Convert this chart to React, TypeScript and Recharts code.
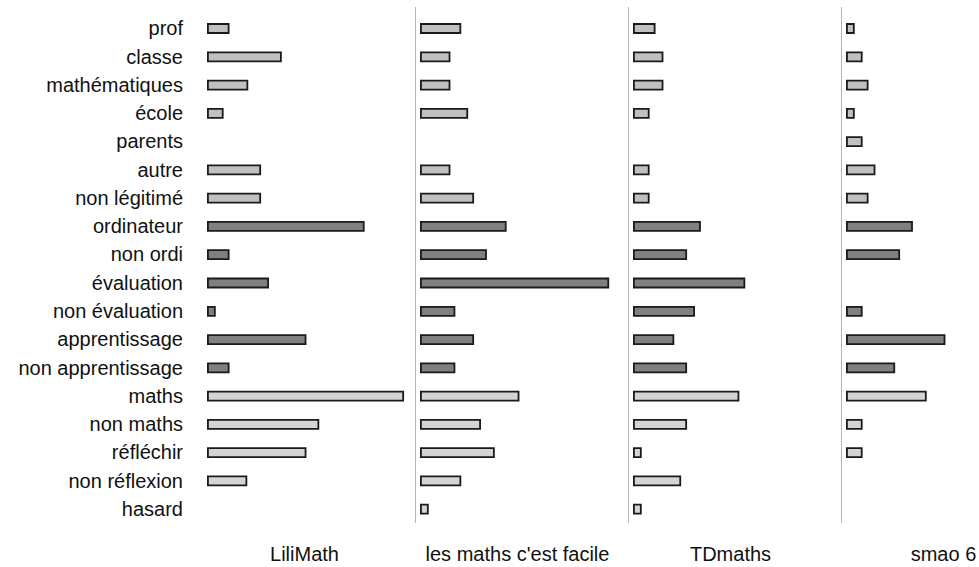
import { BarChart, Bar, XAxis, YAxis, Cell, ReferenceLine } from 'recharts';

const categories = [
  'prof',
  'classe',
  'mathématiques',
  'école',
  'parents',
  'autre',
  'non légitimé',
  'ordinateur',
  'non ordi',
  'évaluation',
  'non évaluation',
  'apprentissage',
  'non apprentissage',
  'maths',
  'non maths',
  'réfléchir',
  'non réflexion',
  'hasard',
];

// theme of each category (drives the bar shade)
const themes = [
  'cadre', 'cadre', 'cadre', 'cadre', 'cadre', 'cadre', 'cadre',
  'outil', 'outil', 'outil', 'outil', 'outil', 'outil',
  'discipline', 'discipline', 'discipline', 'discipline', 'discipline',
];

const sites = ['LiliMath', "les maths c'est facile", 'TDmaths', 'smao 6'];

const liliMath = [2.1, 7.4, 4.0, 1.5, 0, 5.3, 5.3, 15.8, 2.1, 6.1, 0.7, 9.9, 2.1, 19.8, 11.2, 9.9, 3.9, 0];
const mathsFacile = [4.0, 2.9, 2.9, 4.7, 0, 2.9, 5.3, 8.6, 6.6, 19.0, 3.4, 5.3, 3.4, 9.9, 6.0, 7.4, 4.0, 0.7];
const tdMaths = [2.1, 2.9, 2.9, 1.5, 0, 1.5, 1.5, 6.7, 5.3, 11.2, 6.1, 4.0, 5.3, 10.6, 5.3, 0.7, 4.7, 0.7];
const smao6 = [0.7, 1.5, 2.1, 0.7, 1.5, 2.8, 2.1, 6.6, 5.3, 0, 1.5, 9.9, 4.8, 8.0, 1.5, 1.5, 0, 0];

const seriesBySite = [liliMath, mathsFacile, tdMaths, smao6];

const shade: Record<string, string> = {
  cadre: '#c0c0c0',
  outil: '#808080',
  discipline: '#d4d4d4',
};

const FONT = '"Liberation Sans", Arial, sans-serif';
const PANEL_W = 213;
const LABEL_W = 202;
const H = 567;
const X_MIN = -0.6;
const X_MAX = 21;

function Panel({ index }: { index: number }) {
  const values = seriesBySite[index];
  const rows = categories.map((name, i) => ({ name, value: values[i], theme: themes[i] }));
  const first = index === 0;
  const width = first ? LABEL_W + PANEL_W : PANEL_W;
  const left = first ? 0 : LABEL_W + PANEL_W * index;

  return (
    <div style={{ position: 'absolute', left, top: 0 }}>
      <BarChart
        width={width}
        height={H}
        data={rows}
        layout="vertical"
        margin={{ top: 7, right: 0, bottom: 0, left: 0 }}
      >
        <XAxis
          type="number"
          domain={[X_MIN, X_MAX]}
          tick={false}
          tickLine={false}
          axisLine={false}
          height={44}
          label={{
            value: sites[index],
            position: 'insideBottom',
            offset: 6,
            dx: -4,
            fill: '#111',
            fontSize: 20,
            fontFamily: FONT,
          }}
        />
        <YAxis
          type="category"
          dataKey="name"
          hide={!first}
          width={first ? LABEL_W : 0}
          padding={{ top: 7, bottom: 0 }}
          axisLine={false}
          tickLine={false}
          tickSize={0}
          tickMargin={19}
          interval={0}
          tick={{ fontSize: 20, fill: '#111', fontFamily: FONT }}
        />
        {!first && <ReferenceLine x={X_MIN} stroke="#b4b4b4" strokeWidth={2} />}
        <Bar dataKey="value" barSize={9} stroke="#1a1a1a" strokeWidth={1.8} isAnimationActive={false}>
          {rows.map((r) => (
            <Cell key={r.name} fill={shade[r.theme]} />
          ))}
        </Bar>
      </BarChart>
    </div>
  );
}

export default function App() {
  return (
    <div
      style={{
        position: 'absolute',
        left: 0,
        top: 0,
        width: 979,
        height: H,
        overflow: 'hidden',
        background: '#fff',
        fontFamily: FONT,
      }}
    >
      {sites.map((s, i) => (
        <Panel key={s} index={i} />
      ))}
    </div>
  );
}
